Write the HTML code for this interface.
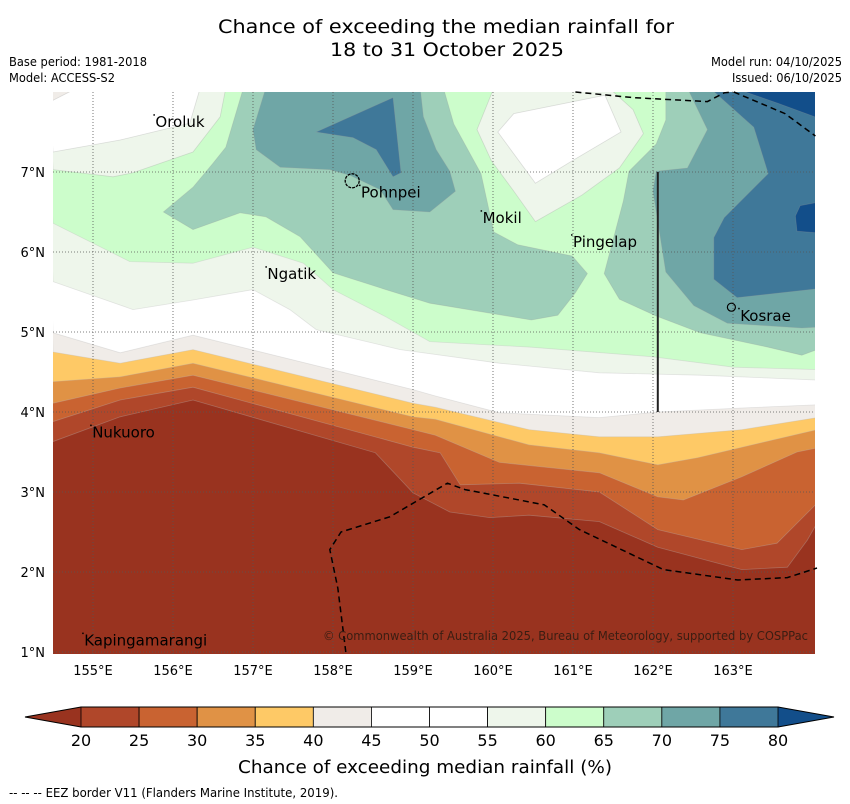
<!DOCTYPE html>
<html><head><meta charset="utf-8">
<style>
body{margin:0;background:#fff;}
svg{display:block;font-family:"DejaVu Sans","Liberation Sans",sans-serif;}
</style></head>
<body>
<svg id="chart" width="850" height="804" viewBox="0 0 850 804">
<defs><clipPath id="mapclip"><rect x="53" y="92" width="762" height="562"/></clipPath></defs>
<g id="map" clip-path="url(#mapclip)"></g>
<g id="overlay"></g>
<g id="axes"></g>
<g id="cbar"></g>
<text x="218" y="33" font-size="19" textLength="456" lengthAdjust="spacingAndGlyphs">Chance of exceeding the median rainfall for</text>
<text x="330" y="56" font-size="19" textLength="234" lengthAdjust="spacingAndGlyphs">18 to 31 October 2025</text>
<text x="9" y="66" font-size="12" textLength="138" lengthAdjust="spacingAndGlyphs">Base period: 1981-2018</text>
<text x="9" y="82" font-size="12" textLength="106" lengthAdjust="spacingAndGlyphs">Model: ACCESS-S2</text>
<text x="711" y="66" font-size="12" textLength="131" lengthAdjust="spacingAndGlyphs">Model run: 04/10/2025</text>
<text x="732" y="82" font-size="12" textLength="110" lengthAdjust="spacingAndGlyphs">Issued: 06/10/2025</text>
<text x="323" y="640" font-size="12" textLength="485" lengthAdjust="spacingAndGlyphs" fill="#3a1d12">© Commonwealth of Australia 2025, Bureau of Meteorology, supported by COSPPac</text>
<text x="238" y="773" font-size="18" textLength="374" lengthAdjust="spacingAndGlyphs">Chance of exceeding median rainfall (%)</text>
<text x="9" y="797" font-size="12" textLength="329" lengthAdjust="spacingAndGlyphs">--  --  -- EEZ border V11 (Flanders Marine Institute, 2019).</text>
</svg>
<script>
// ---- data (lon, lat) ----
const bandColors = ["#99331f","#b0472a","#c96331","#e09245","#fec966","#f0ece8","#ffffff","#ffffff","#eef6eb","#ccfdcb","#9ecfb9","#6fa6a6","#3f7899","#124e8a"];
const cbarLevels = [20,25,30,35,40,45,50,55,60,65,70,75,80];
const lonTicks = [155,156,157,158,159,160,161,162,163];
const latTicks = [1,2,3,4,5,6,7];
const line20 = [[154.5,3.63],[155.34,3.94],[156.25,4.15],[158.53,3.49],[159.0,2.99],[159.46,2.75],[159.96,2.68],[160.45,2.71],[161.33,2.63],[162.06,2.31],[163.11,2.03],[163.68,2.06],[163.93,2.4],[164.05,2.61]];
const line25 = [[154.5,3.88],[155.34,4.15],[156.25,4.31],[159.0,3.56],[159.34,3.49],[159.59,3.09],[160.33,3.11],[161.33,3.0],[162.06,2.53],[163.11,2.28],[163.55,2.36],[164.05,2.86]];
const line30 = [[154.5,4.11],[155.34,4.3],[156.25,4.46],[159.0,3.78],[159.28,3.71],[160.08,3.37],[161.33,3.24],[162.06,2.94],[162.38,2.9],[163.11,3.19],[163.8,3.5],[164.05,3.55]];
const line35 = [[154.5,4.38],[155.34,4.44],[156.25,4.61],[159.0,3.94],[159.28,3.91],[160.45,3.59],[161.33,3.49],[162.06,3.34],[162.56,3.43],[163.11,3.56],[164.05,3.78]];
const line40 = [[154.5,4.75],[155.34,4.61],[156.25,4.78],[159.0,4.11],[159.28,4.06],[160.45,3.78],[161.33,3.69],[162.06,3.69],[163.11,3.78],[164.05,3.93]];
const line45 = [[154.5,4.99],[155.34,4.74],[156.25,4.96],[159.0,4.28],[159.28,4.2],[160.08,3.99],[161.33,3.93],[162.06,4.0],[163.11,4.05],[164.05,4.09]];
const line55 = [[154.5,5.63],[155.5,5.28],[156.25,5.4],[157.0,5.53],[157.46,5.28],[157.79,5.03],[158.84,4.78],[160.08,4.61],[161.33,4.49],[162.59,4.46],[164.05,4.4]];
const line60 = [[154.5,6.36],[155.46,5.88],[156.25,5.86],[157.0,6.06],[157.63,5.86],[158.0,5.53],[158.66,5.19],[159.21,4.88],[160.48,4.81],[162.0,4.69],[163.01,4.56],[164.05,4.53]];
const nw60 = [[154.5,7.03],[155.25,6.94],[155.5,6.99],[156.25,7.25],[156.59,7.69],[156.66,8.05],[154.45,8.05]];
const nw55 = [[154.5,7.25],[155.34,7.4],[156.21,7.61],[156.34,8.05],[154.45,8.05]];
const nw40 = [[154.45,8.05],[154.8,8.05],[154.45,7.87]];
const left65 = [[156.88,8.05],[156.66,7.31],[156.5,7.11],[156.25,6.81],[155.88,6.5],[156.25,6.28],[156.84,6.49],[157.16,6.44],[157.59,6.19],[158.0,5.74],[158.66,5.53],[159.21,5.36],[160.48,5.15],[160.81,5.21],[161.03,5.49],[161.18,5.73],[160.99,5.95],[160.31,6.09],[160.01,6.25],[159.85,6.98],[159.51,7.6],[159.38,8.05]];
const right65 = [[162.16,8.05],[162.16,7.65],[162.04,7.35],[161.7,7.01],[161.63,6.64],[161.39,5.73],[161.58,5.41],[162.04,5.2],[162.59,4.99],[163.44,4.81],[163.86,4.71],[164.05,4.78],[164.05,8.05]];
const blob55 = [[160.01,8.05],[159.8,7.53],[159.98,7.14],[160.26,6.76],[160.53,6.38],[161.11,6.71],[161.58,7.05],[161.88,7.48],[161.75,7.78],[161.45,8.05]];
const blob50 = [[160.06,7.5],[160.26,7.73],[161.4,7.96],[161.6,7.5],[160.99,7.14],[160.53,6.86]];
const left70 = [[157.16,8.05],[159.09,8.05],[159.13,7.69],[159.29,7.28],[159.46,7.01],[159.53,6.76],[159.21,6.5],[158.75,6.53],[158.59,6.78],[158.21,6.96],[157.96,7.03],[157.34,7.06],[157.04,7.28],[157.0,7.53]];
const left75 = [[157.79,7.5],[158.75,7.93],[158.85,6.99],[158.75,6.94],[158.54,7.28],[158.25,7.43]];
const right70 = [[162.43,8.05],[162.68,7.53],[162.43,7.05],[162.04,7.01],[162.0,6.76],[162.16,5.75],[162.51,5.33],[162.93,5.11],[163.86,5.05],[164.05,5.06],[164.05,8.05]];
const right75 = [[162.71,8.05],[163.26,7.56],[163.44,6.98],[162.89,6.43],[162.76,6.18],[162.76,5.66],[163.05,5.43],[164.05,5.54],[164.05,8.05]];
const top80 = [[163.01,8.05],[163.56,7.86],[164.05,7.68],[164.05,8.05]];
const east80 = [[164.05,6.62],[163.84,6.58],[163.78,6.45],[163.8,6.26],[164.05,6.24]];
const eezTop1 = [[161.03,8.0],[161.75,7.93],[162.68,7.88],[162.89,7.99],[163.0,8.0]];
const eezTop2 = [[163.01,8.0],[163.65,7.73],[164.03,7.45]];
const eezSouth = [[158.16,1.0],[158.06,1.8],[157.96,2.28],[158.1,2.5],[158.71,2.69],[159.43,3.11],[159.65,3.03],[160.64,2.84],[161.08,2.53],[162.13,2.03],[163.06,1.9],[163.68,1.93],[164.05,2.05]];
const islandNames = ["Oroluk","Pohnpei","Mokil","Pingelap","Ngatik","Kosrae","Nukuoro","Kapingamarangi"];
const islandLon = [155.78,158.35,159.87,161.0,157.18,163.09,154.99,154.89];
const islandLat = [7.56,6.68,6.36,6.06,5.66,5.14,3.68,1.08];
const boundaryLine = [[162.06,7.0],[162.06,4.0]];

const NS="http://www.w3.org/2000/svg";
const X = lon => 53 + (lon-154.5)*80;
const Y = lat => 92 + (8-lat)*80;
function mk(tag, parent){const e=document.createElementNS(NS,tag);parent.appendChild(e);return e;}
function pts(arr){return arr.map(p=>X(p[0]).toFixed(1)+","+Y(p[1]).toFixed(1)).join(" ");}
const map=document.getElementById('map');
const bg=mk('rect',map);bg.setAttribute('x',53);bg.setAttribute('y',92);bg.setAttribute('width',762);bg.setAttribute('height',562);bg.setAttribute('fill',bandColors[0]);


function northPoly(line, color, name){
  const arr=line.concat([[164.1,8.1],[154.4,8.1]]);
  const p=mk('polygon',map);p.setAttribute('points',pts(arr));p.setAttribute('fill',color);p.setAttribute('stroke','#bbb');p.setAttribute('stroke-opacity','0.35');p.setAttribute('stroke-width','0.8');
  
  
}
function poly(arr,color,name){
  const p=mk('polygon',map);p.setAttribute('points',pts(arr));p.setAttribute('fill',color);p.setAttribute('stroke','#999');p.setAttribute('stroke-opacity','0.3');p.setAttribute('stroke-width','0.8');
  
  
}
northPoly(line20,bandColors[1],'band-20-25');
northPoly(line25,bandColors[2],'band-25-30');
northPoly(line30,bandColors[3],'band-30-35');
northPoly(line35,bandColors[4],'band-35-40');
northPoly(line40,bandColors[5],'band-40-45');
northPoly(line45,bandColors[6],'band-45-55');
northPoly(line55,bandColors[8],'band-55-60');
northPoly(line60,bandColors[9],'band-60-65');
poly(nw60,bandColors[8],'nw-band-55-60');
poly(nw55,bandColors[6],'nw-band-45-55');
poly(nw40,bandColors[5],'nw-band-40-45');
poly(left65,bandColors[10],'west-band-65-70');
poly(right65,bandColors[10],'east-band-65-70');
poly(blob55,bandColors[8],'central-band-55-60');
poly(blob50,bandColors[7],'central-band-50-55');
poly(left70,bandColors[11],'west-band-70-75');
poly(right70,bandColors[11],'east-band-70-75');
poly(left75,bandColors[12],'west-band-75-80');
poly(right75,bandColors[12],'east-band-75-80');
poly(top80,bandColors[13],'ne-band-above-80');
poly(east80,bandColors[13],'east-band-above-80');

const ov=document.getElementById('overlay');
lonTicks.forEach(l=>{const g=mk('line',ov);g.setAttribute('x1',X(l));g.setAttribute('x2',X(l));g.setAttribute('y1',92);g.setAttribute('y2',654);g.setAttribute('stroke','#555');g.setAttribute('stroke-width','0.8');g.setAttribute('stroke-dasharray','1,2');

});
latTicks.forEach(l=>{const g=mk('line',ov);g.setAttribute('x1',53);g.setAttribute('x2',815);g.setAttribute('y1',Y(l));g.setAttribute('y2',Y(l));g.setAttribute('stroke','#555');g.setAttribute('stroke-width','0.8');g.setAttribute('stroke-dasharray','1,2');

});
[eezTop1,eezTop2,eezSouth].forEach(a=>{const l=mk('polyline',ov);l.setAttribute('points',pts(a));l.setAttribute('fill','none');l.setAttribute('stroke','#000');l.setAttribute('stroke-width','1.5');l.setAttribute('stroke-dasharray','6,4');

});
const bl=mk('polyline',ov);bl.setAttribute('points',pts(boundaryLine));bl.setAttribute('stroke','#222');bl.setAttribute('stroke-width','2');


const pohn=mk('circle',ov);pohn.setAttribute('cx',X(158.24));pohn.setAttribute('cy',Y(6.89));pohn.setAttribute('r',7);pohn.setAttribute('fill','none');pohn.setAttribute('stroke','#000');pohn.setAttribute('stroke-width','1.3');pohn.setAttribute('stroke-dasharray','3,1');


const kos=mk('circle',ov);kos.setAttribute('cx',X(162.98));kos.setAttribute('cy',Y(5.31));kos.setAttribute('r',4);kos.setAttribute('fill','none');kos.setAttribute('stroke','#000');kos.setAttribute('stroke-width','1.2');


islandNames.forEach((n,i)=>{
  const d=mk('rect',ov);d.setAttribute('x',X(islandLon[i])-2);d.setAttribute('y',Y(islandLat[i])-13);d.setAttribute('width',1.5);d.setAttribute('height',1.5);d.setAttribute('fill','#000');
  
  
  const t=mk('text',ov);t.setAttribute('x',X(islandLon[i]));t.setAttribute('y',Y(islandLat[i]));t.setAttribute('font-size','15');t.textContent=n;
  
  
});
const ax=document.getElementById('axes');
lonTicks.forEach(l=>{const t=mk('text',ax);t.setAttribute('x',X(l));t.setAttribute('y',675);t.setAttribute('font-size','13');t.setAttribute('text-anchor','middle');t.textContent=l+"°E";

});
latTicks.forEach(l=>{const t=mk('text',ax);t.setAttribute('x',45);t.setAttribute('y',Y(l)+5);t.setAttribute('font-size','13');t.setAttribute('text-anchor','end');t.textContent=l+"°N";

});
const cb=document.getElementById('cbar');
const CX = v => 81 + (v-20)/60*697;
const cy0=707, cy1=727;
const lt=mk('polygon',cb);lt.setAttribute('points',`25,${(cy0+cy1)/2} ${CX(20)},${cy0} ${CX(20)},${cy1}`);lt.setAttribute('fill',bandColors[0]);


const rt=mk('polygon',cb);rt.setAttribute('points',`834,${(cy0+cy1)/2} ${CX(80)},${cy0} ${CX(80)},${cy1}`);rt.setAttribute('fill',bandColors[13]);


for(let i=0;i<cbarLevels.length-1;i++){
  const r=mk('rect',cb);r.setAttribute('x',CX(cbarLevels[i]));r.setAttribute('y',cy0);r.setAttribute('width',CX(cbarLevels[i+1])-CX(cbarLevels[i]));r.setAttribute('height',cy1-cy0);r.setAttribute('fill',bandColors[i+1]);r.setAttribute('stroke','#000');r.setAttribute('stroke-width','0.8');
  
  
}
const fr=mk('polygon',cb);fr.setAttribute('points',`25,${(cy0+cy1)/2} ${CX(20)},${cy0} ${CX(80)},${cy0} 834,${(cy0+cy1)/2} ${CX(80)},${cy1} ${CX(20)},${cy1}`);fr.setAttribute('fill','none');fr.setAttribute('stroke','#000');fr.setAttribute('stroke-width','1');


cbarLevels.forEach(v=>{const t=mk('text',cb);t.setAttribute('x',CX(v));t.setAttribute('y',746);t.setAttribute('font-size','16');t.setAttribute('text-anchor','middle');t.textContent=v;

});
</script>
</body></html>
